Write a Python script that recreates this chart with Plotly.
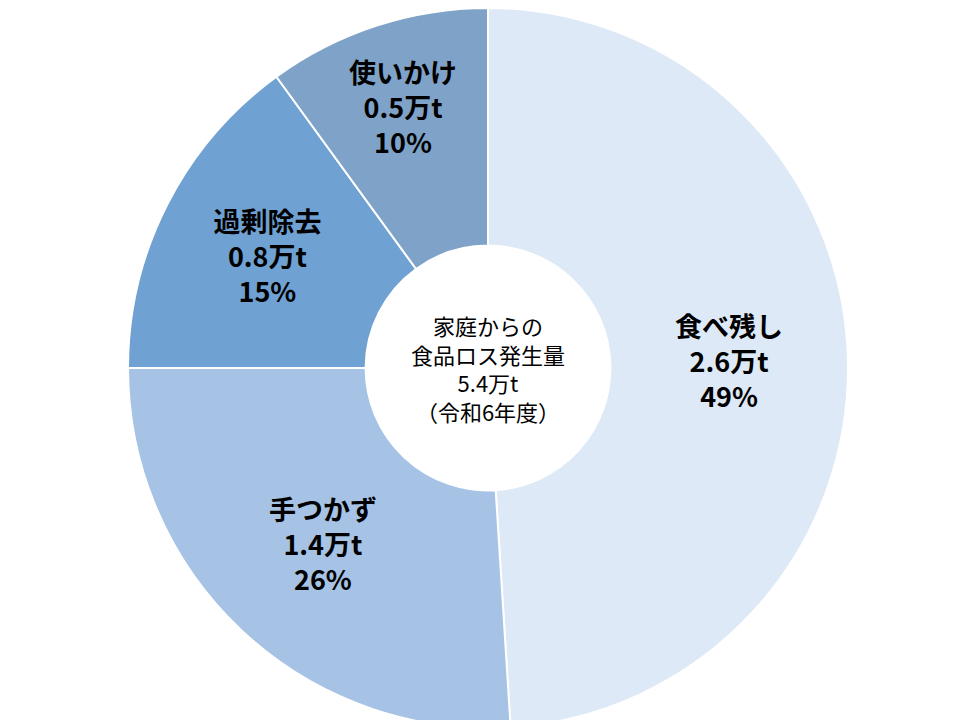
import plotly.graph_objects as go

labels = ['食べ残し', '手つかず', '過剰除去', '使いかけ']
tons = ['2.6万t', '1.4万t', '0.8万t', '0.5万t']
percents = [49, 26, 15, 10]
colors = ['#dde9f6', '#a6c3e6', '#6fa1d2', '#7fa3c8']

text = ['<b>%s<br>%s<br>%d%%</b>' % (l, t, p) for l, t, p in zip(labels, tons, percents)]

fig = go.Figure(go.Pie(
    labels=labels, values=percents, text=text,
    textinfo='text', textposition='inside', insidetextorientation='horizontal',
    hole=0.34, sort=False, direction='clockwise', rotation=0,
    marker=dict(colors=colors, line=dict(color='white', width=2)),
    textfont=dict(size=27, color='black'),
))
fig.add_annotation(
    text='家庭からの<br>食品ロス発生量<br>5.4万t<br>（令和6年度）',
    x=0.5, y=0.5, xref='paper', yref='paper', showarrow=False,
    font=dict(size=22, color='black'),
)
fig.update_layout(
    width=960, height=720, showlegend=False,
    margin=dict(l=0, r=0, t=0, b=0),
    paper_bgcolor='white',
    font=dict(family='Noto Sans CJK JP'),
    uniformtext=dict(minsize=27, mode='show'),
)
fig.write_html('out.html')
